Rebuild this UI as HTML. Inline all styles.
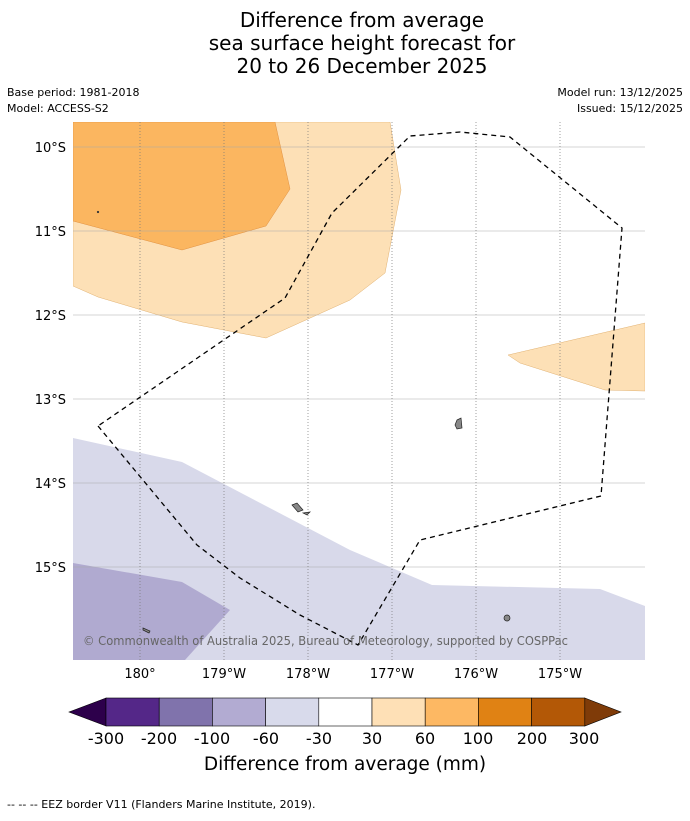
<!DOCTYPE html>
<html><head><meta charset="utf-8"><style>
body{margin:0;background:#fff;font-family:"Liberation Sans","DejaVu Sans",sans-serif;}
svg text{font-family:"DejaVu Sans","Liberation Sans",sans-serif;}
</style></head><body>
<svg width="690" height="816" viewBox="0 0 690 816" xmlns="http://www.w3.org/2000/svg">
<rect width="690" height="816" fill="#fff"/>
<text x="362" y="27" font-size="20" text-anchor="middle">Difference from average</text>
<text x="362" y="50" font-size="20" text-anchor="middle">sea surface height forecast for</text>
<text x="362" y="73" font-size="20" text-anchor="middle">20 to 26 December 2025</text>
<text x="7" y="96" font-size="11">Base period: 1981-2018</text>
<text x="7" y="112" font-size="11">Model: ACCESS-S2</text>
<text x="683" y="96" font-size="11" text-anchor="end">Model run: 13/12/2025</text>
<text x="683" y="112" font-size="11" text-anchor="end">Issued: 15/12/2025</text>
<defs><clipPath id="pc"><rect x="73" y="122" width="572" height="538"/></clipPath></defs>
<g clip-path="url(#pc)">
<polygon points="73,122 390,122 401,190 385,273 350,300 266,338 182,322 98,297 73,286" fill="#fde0b6" stroke="#e0b070" stroke-width="0.5"/>
<polygon points="73,122 275,122 290,189 266,226 182,250 73,221" fill="#fbb660" stroke="#e09040" stroke-width="0.5"/>
<polygon points="645,323 508,355 520,363 605,390 645,391" fill="#fde0b6" stroke="#e0b070" stroke-width="0.5"/>
<polygon points="73,438 182,462 350,550 432,585 600,589 645,606 645,660 73,660" fill="#d8d9ea"/>
<polygon points="73,563 182,582 230,610 185,660 73,660" fill="#b0aad0"/>
<g stroke="#aaa" stroke-width="0.6">
<line x1="73" x2="645" y1="147" y2="147"/><line x1="73" x2="645" y1="231" y2="231"/><line x1="73" x2="645" y1="315" y2="315"/><line x1="73" x2="645" y1="399" y2="399"/><line x1="73" x2="645" y1="483" y2="483"/><line x1="73" x2="645" y1="567" y2="567"/>
</g>
<g stroke="#777" stroke-width="0.7" stroke-dasharray="1,2">
<line x1="140" x2="140" y1="122" y2="660"/><line x1="224" x2="224" y1="122" y2="660"/><line x1="308" x2="308" y1="122" y2="660"/><line x1="392" x2="392" y1="122" y2="660"/><line x1="476" x2="476" y1="122" y2="660"/><line x1="560" x2="560" y1="122" y2="660"/>
</g>
<polyline points="98,426 197,545 240,578 300,615 358,645 420,540 601,496 622,228 510,137 460,132 410,136 332,213 285,298 98,426" fill="none" stroke="#000" stroke-width="1.3" stroke-dasharray="5,4"/>
<g fill="#888" stroke="#222" stroke-width="0.7">
<polygon points="457,420 461,418 462,428 457,429 455,425"/>
<polygon points="292,505 297,503 303,510 298,512"/>
<polygon points="303,513 310,512 307,515"/>
<circle cx="507" cy="618" r="3"/>
<polygon points="143,628 150,631 149,633 143,630"/>
<circle cx="98" cy="212" r="0.8"/>
</g>
<text x="83" y="645" font-size="12" fill="#666" textLength="485" lengthAdjust="spacingAndGlyphs">© Commonwealth of Australia 2025, Bureau of Meteorology, supported by COSPPac</text>
</g>
<g font-size="13" text-anchor="end">
<text x="66" y="152">10°S</text><text x="66" y="236">11°S</text><text x="66" y="320">12°S</text><text x="66" y="404">13°S</text><text x="66" y="488">14°S</text><text x="66" y="572">15°S</text>
</g>
<g font-size="13" text-anchor="middle">
<text x="140" y="678">180°</text><text x="224" y="678">179°W</text><text x="308" y="678">178°W</text><text x="392" y="678">177°W</text><text x="476" y="678">176°W</text><text x="560" y="678">175°W</text>
</g>
<g stroke="#000" stroke-width="0.6">
<polygon points="69,712 106,698 106,726" fill="#2d004b"/>
<rect x="106" y="698" width="53.2" height="28" fill="#542788"/>
<rect x="159.2" y="698" width="53.2" height="28" fill="#8073ac"/>
<rect x="212.4" y="698" width="53.2" height="28" fill="#b2abd2"/>
<rect x="265.6" y="698" width="53.2" height="28" fill="#d8daeb"/>
<rect x="318.8" y="698" width="53.2" height="28" fill="#ffffff"/>
<rect x="372" y="698" width="53.2" height="28" fill="#fee0b6"/>
<rect x="425.2" y="698" width="53.2" height="28" fill="#fdb863"/>
<rect x="478.4" y="698" width="53.2" height="28" fill="#e08214"/>
<rect x="531.6" y="698" width="53.2" height="28" fill="#b35806"/>
<polygon points="584.8,698 621,712 584.8,726" fill="#7f3b08"/>
</g>
<g font-size="16" text-anchor="middle">
<text x="106" y="744">-300</text><text x="159" y="744">-200</text><text x="212" y="744">-100</text><text x="266" y="744">-60</text><text x="319" y="744">-30</text><text x="372" y="744">30</text><text x="425" y="744">60</text><text x="478" y="744">100</text><text x="532" y="744">200</text><text x="584" y="744">300</text>
</g>
<text x="345" y="770" font-size="18.5" text-anchor="middle">Difference from average (mm)</text>
<text x="7" y="808" font-size="11">--  --  -- EEZ border V11 (Flanders Marine Institute, 2019).</text>
</svg>
</body></html>
